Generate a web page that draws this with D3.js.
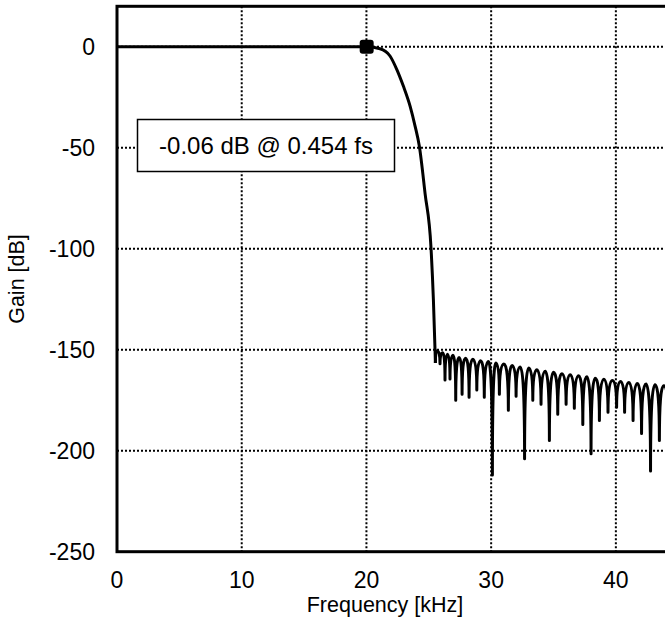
<!DOCTYPE html>
<html>
<head>
<meta charset="utf-8">
<script src="https://cdn.jsdelivr.net/npm/d3@7"></script>
<style>
  body { margin: 0; background: #fff; }
  svg { display: block; font-family: "Liberation Sans", Arial, sans-serif; }
</style>
</head>
<body>
<div id="chart"></div>
<script>
// axis ticks
const xTicks = [0, 10, 20, 30, 40];
const yTicks = [0, -50, -100, -150, -200, -250];

// passband + transition band (kHz, dB)
const passFreq = [0, 20.02, 21.09, 21.89, 22.43, 22.96, 23.50, 23.90, 24.24, 24.70, 25.18, 25.37, 25.50, 25.53];
const passGain = [0, -0.06, -1.0, -4.6, -11.2, -19.5, -29.4, -39.3, -49.2, -72.6, -99.8, -125.4, -150, -156.6];

// stopband: nulls and lobe peaks
const nullFreq = [25.53, 25.90, 26.30, 26.70, 27.16, 27.67, 28.23, 28.85, 29.45, 30.10, 30.66, 31.38, 32.00, 32.68, 33.34, 34.00, 34.67, 35.34, 36.01, 36.67, 37.35, 38.01, 38.68, 39.37, 40.06, 40.70, 41.38, 42.06, 42.78, 43.49, 44.20];
const nullGain = [-156.6, -157, -165, -164.5, -175, -172, -173.5, -170, -173.5, -212, -172, -180, -173, -204, -175, -177, -195, -182, -177, -179, -187, -201.5, -185, -181, -178.5, -181, -185, -191.5, -210, -195, -185];
const peakFreq = [25.66, 26.10, 26.50, 26.94, 27.43, 27.95, 28.53, 29.15, 29.78, 30.38, 31.02, 31.68, 32.33, 33.01, 33.66, 34.34, 35.00, 35.67, 36.34, 37.01, 37.67, 38.35, 39.03, 39.72, 40.38, 41.04, 41.72, 42.42, 43.14, 43.84];
const peakGain = [-150.5, -151.5, -152.3, -152.8, -153.8, -154.2, -154.7, -155.5, -155.8, -156.6, -157.1, -157.8, -158.6, -159.1, -159.9, -160.7, -161.2, -161.9, -162.4, -162.9, -163.4, -164.1, -164.6, -165.2, -165.7, -166.2, -166.7, -167, -167.3, -167.8];

// marker + note
const markFreq = 20.02;
const markGain = -0.06;
const noteText = "-0.06 dB @ 0.454 fs";

const W = 665, H = 627;
const plotLeft = 117, plotTop = 6.3, plotBottom = 551.7;

const x = d3.scaleLinear().domain([0, 44.1]).range([plotLeft, 667]);
const y = d3.scaleLinear().domain([-250, 20]).range([plotBottom, plotTop]);

const svg = d3.select("#chart").append("svg")
  .attr("width", W)
  .attr("height", H);

svg.append("defs").append("clipPath")
  .attr("id", "plotclip")
  .append("rect")
  .attr("x", x(0)).attr("y", y(20))
  .attr("width", x(44.1) - x(0)).attr("height", y(-250) - y(20));

// grid
const grid = svg.append("g");
grid.selectAll(".vg")
  .data(xTicks.filter(d => d > 0))
  .enter().append("line")
  .attr("x1", d => x(d)).attr("x2", d => x(d))
  .attr("y1", y(20)).attr("y2", y(-250));
grid.selectAll(".hg")
  .data(yTicks.filter(d => d > -250))
  .enter().append("line")
  .attr("x1", x(0)).attr("x2", x(44.1))
  .attr("y1", d => y(d)).attr("y2", d => y(d));
grid.selectAll("line")
  .attr("stroke", "#000")
  .attr("stroke-width", 2)
  .attr("stroke-dasharray", "2,2");

// note box
const note = svg.append("g");
note.append("rect")
  .attr("x", 137.5).attr("y", 119.5)
  .attr("width", 257).attr("height", 52)
  .attr("fill", "#fff")
  .attr("stroke", "#000")
  .attr("stroke-width", 1.5);
note.append("text")
  .attr("x", 266).attr("y", 146)
  .attr("dy", "0.35em")
  .attr("text-anchor", "middle")
  .style("font-size", "24px")
  .text(noteText);

// response curve
const plot = svg.append("g").attr("clip-path", "url(#plotclip)");

const passData = passFreq.map((f, i) => ({ f, g: passGain[i] }));
const line = d3.line()
  .x(d => x(d.f))
  .y(d => y(d.g))
  .curve(d3.curveMonotoneX);

plot.append("path")
  .attr("d", line(passData))
  .attr("fill", "none")
  .attr("stroke", "#000")
  .attr("stroke-width", 3)
  .attr("stroke-linejoin", "round");

// stopband lobes: rounded tops, sharp nulls
const p = d3.path();
p.moveTo(x(nullFreq[0]), y(nullGain[0]));
peakFreq.forEach((pf, i) => {
  const x0 = x(nullFreq[i]);
  const xp = x(pf), yp = y(peakGain[i]);
  const x1 = x(nullFreq[i + 1]), y1 = y(nullGain[i + 1]);
  p.quadraticCurveTo(x0, yp, xp, yp);
  p.quadraticCurveTo(x1, yp, x1, y1);
});
plot.append("path")
  .attr("d", p.toString())
  .attr("fill", "none")
  .attr("stroke", "#000")
  .attr("stroke-width", 3)
  .attr("stroke-linejoin", "round");

// marker
svg.append("rect")
  .attr("x", x(markFreq) - 7).attr("y", y(markGain) - 7)
  .attr("width", 14).attr("height", 14)
  .attr("rx", 3)
  .attr("fill", "#000");

// frame (right side falls outside the window)
svg.append("rect")
  .attr("x", x(0)).attr("y", y(20))
  .attr("width", x(44.1) - x(0)).attr("height", y(-250) - y(20))
  .attr("fill", "none")
  .attr("stroke", "#000")
  .attr("stroke-width", 3);

// tick labels
svg.selectAll(".xt")
  .data(xTicks)
  .enter().append("text")
  .attr("x", d => x(d))
  .attr("y", plotBottom + 36)
  .attr("text-anchor", "middle")
  .style("font-size", "23px")
  .text(d => d);

svg.selectAll(".yt")
  .data(yTicks)
  .enter().append("text")
  .attr("x", 95)
  .attr("y", d => y(d))
  .attr("dy", "0.35em")
  .attr("text-anchor", "end")
  .style("font-size", "23px")
  .text(d => d);

// axis titles
svg.append("text")
  .attr("x", 385)
  .attr("y", 612)
  .attr("text-anchor", "middle")
  .style("font-size", "21.5px")
  .text("Frequency [kHz]");

svg.append("text")
  .attr("transform", `translate(24,${(plotTop + plotBottom) / 2}) rotate(-90)`)
  .attr("text-anchor", "middle")
  .style("font-size", "21.5px")
  .text("Gain [dB]");
</script>
</body>
</html>
